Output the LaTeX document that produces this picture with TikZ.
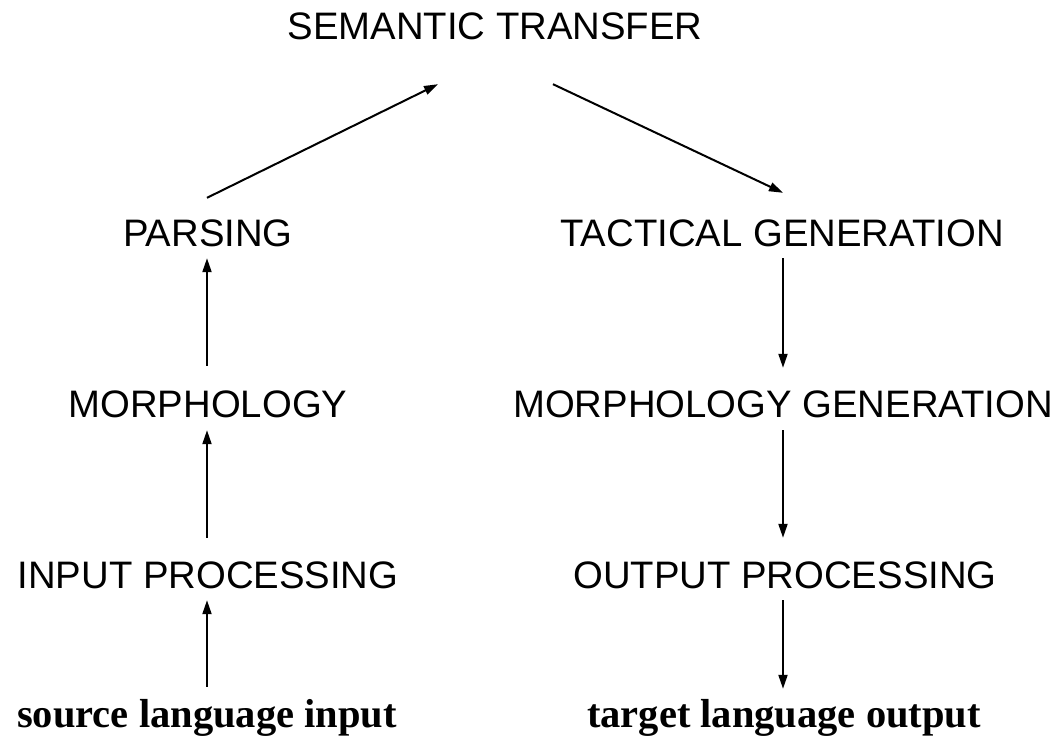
\documentclass[tikz,border=0pt]{standalone}
\usepackage{fontspec}
\usetikzlibrary{calc}
\usetikzlibrary{arrows.meta}
\newfontfamily\stagefont{Liberation Sans}
\newfontfamily\endsfont{Liberation Serif}

\tikzset{
	stage/.style={anchor=base, inner sep=0pt, text height=28pt, text depth=0pt,
		font=\stagefont\fontsize{38.3}{42}\selectfont},
	ends/.style={anchor=base, inner sep=0pt, text height=28pt, text depth=0pt,
		font=\endsfont\bfseries\fontsize{40.5}{44}\selectfont},
	arr/.style={line width=2pt, -{Triangle[length=14pt,width=9pt]}}
}

\begin{document}
\begin{tikzpicture}[x=1pt,y=-1pt]
		\useasboundingbox (0,0) rectangle (1057,741);
		\coordinate (colL) at (207,0);
		\coordinate (colR) at (783,0);
		
		% analysis side
		\node[stage] (sem) at (495,40) {SEMANTIC TRANSFER};
		\node[stage] (pars) at (208,246) {PARSING};
		\node[stage] (morph) at (208,417) {MORPHOLOGY};
		\node[stage] (inproc) at (208,588) {INPUT PROCESSING};
		\node[ends] (src) at (207,727) {source language input};
		
		% generation side
		\node[stage] (tact) at (782,246) {TACTICAL GENERATION};
		\node[stage] (morphgen) at (783,417) {MORPHOLOGY GENERATION};
		\node[stage] (outproc) at (785,588) {OUTPUT PROCESSING};
		\node[ends] (tgt) at (784,727) {target language output};
		
		\draw[arr, shorten <=12pt, shorten >=12pt] (src.north -| colL) -- (inproc.south -| colL);
		\draw[arr, shorten <=22pt, shorten >=13pt] (inproc.north -| colL) -- (morph.south -| colL);
		\draw[arr, shorten <=23pt, shorten >=12pt] (morph.north -| colL) -- (pars.south -| colL);
		\draw[arr] ([yshift=20pt]pars.north -| colL) -- ([xshift=-57pt,yshift=-44pt]sem.south);
		
		\draw[arr] ([xshift=58pt,yshift=-44pt]sem.south) -- ([yshift=25pt]tact.north -| colR);
		\draw[arr, shorten <=12pt, shorten >=21pt] (tact.south -| colR) -- (morphgen.north -| colR);
		\draw[arr, shorten <=13pt, shorten >=22pt] (morphgen.south -| colR) -- (outproc.north -| colR);
		\draw[arr, shorten <=12pt, shorten >=10pt] (outproc.south -| colR) -- (tgt.north -| colR);
\end{tikzpicture}
\end{document}
